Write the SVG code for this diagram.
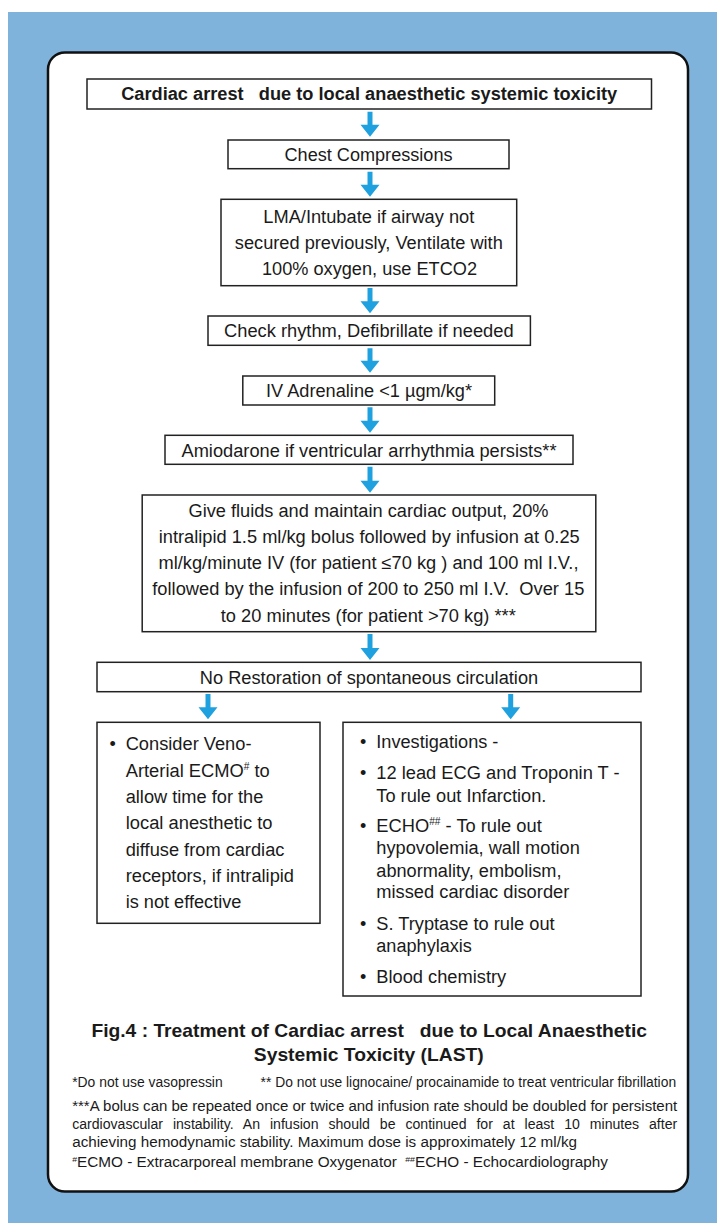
<svg xmlns="http://www.w3.org/2000/svg" width="717" height="1223" viewBox="0 0 717 1223">
<defs>
<style>
.t{font-family:"Liberation Sans",Arial,sans-serif;font-size:18px;fill:#1a1a1a}
.b{font-weight:bold}
.m{text-anchor:middle}
.p{white-space:pre}
.f{font-family:"Liberation Sans",Arial,sans-serif;font-size:14px;fill:#1a1a1a}
.box{fill:#ffffff;stroke:#222222;stroke-width:1.5}
.arr{fill:#1fa1e0;stroke:none}
.sup{font-size:10px}
</style>
</defs>
<rect x="0" y="0" width="717" height="1223" fill="#ffffff"/>
<rect x="8" y="12" width="709" height="1211" fill="#80b3dc"/>
<rect x="48" y="52.5" width="640" height="1139" rx="17" ry="17" fill="#ffffff" stroke="#111111" stroke-width="2.5"/>

<g id="connectors">
<path class="arr" d="M367.5,111.7 h5 V124.7 h7 L370,136.7 L360.5,124.7 h7 Z"/>
<path class="arr" d="M367.5,171.7 h5 V184.7 h7 L370,196.7 L360.5,184.7 h7 Z"/>
<path class="arr" d="M367.5,288 h5 V301.3 h7 L370,313.3 L360.5,301.3 h7 Z"/>
<path class="arr" d="M367.5,348.3 h5 V360.7 h7 L370,372.7 L360.5,360.7 h7 Z"/>
<path class="arr" d="M367.5,407.3 h5 V420.7 h7 L370,432.7 L360.5,420.7 h7 Z"/>
<path class="arr" d="M367.5,466.7 h5 V480.7 h7 L370,492.7 L360.5,480.7 h7 Z"/>
<path class="arr" d="M367.5,634 h5 V648 h7 L370,660 L360.5,648 h7 Z"/>
<path class="arr" d="M205.5,694 h5 V707.3 h7 L208,719.3 L198.5,707.3 h7 Z"/>
<path class="arr" d="M508.2,694 h5 V707.3 h7 L510.7,719.3 L501.2,707.3 h7 Z"/>
</g>

<g id="n-title">
<rect class="box" x="87" y="79" width="564.5" height="30" stroke-width="2"/>
<text class="t b m p" x="369.2" y="100.3" textLength="496" lengthAdjust="spacingAndGlyphs">Cardiac arrest   due to local anaesthetic systemic toxicity</text>
</g>

<g id="n-chest">
<rect class="box" x="228" y="140" width="281" height="28.7"/>
<text class="t m" x="368.5" y="160.7" textLength="168" lengthAdjust="spacingAndGlyphs">Chest Compressions</text>
</g>

<g id="n-lma">
<rect class="box" x="221" y="199.3" width="295.7" height="86.4"/>
<text class="t m" x="368.8" y="222.7" textLength="211" lengthAdjust="spacingAndGlyphs">LMA/Intubate if airway not</text>
<text class="t m" x="368.8" y="248.5" textLength="268" lengthAdjust="spacingAndGlyphs">secured previously, Ventilate with</text>
<text class="t m" x="369.5" y="275" textLength="215" lengthAdjust="spacingAndGlyphs">100% oxygen, use ETCO2</text>
</g>

<g id="n-rhythm">
<rect class="box" x="208" y="316" width="322.4" height="29.3"/>
<text class="t m" x="368.8" y="336.7" textLength="289.5" lengthAdjust="spacingAndGlyphs">Check rhythm, Defibrillate if needed</text>
</g>

<g id="n-adrenaline">
<rect class="box" x="242.8" y="376" width="251.9" height="29"/>
<text class="t m" x="369" y="397.3" textLength="206" lengthAdjust="spacingAndGlyphs">IV Adrenaline &lt;1 µgm/kg*</text>
</g>

<g id="n-amiodarone">
<rect class="box" x="165" y="435.3" width="408" height="29"/>
<text class="t m" x="369" y="456.7" textLength="375" lengthAdjust="spacingAndGlyphs">Amiodarone if ventricular arrhythmia persists**</text>
</g>

<g id="n-fluids">
<rect class="box" x="142.2" y="495" width="453.6" height="136.7"/>
<text class="t m" x="368.5" y="516.7" textLength="360" lengthAdjust="spacingAndGlyphs">Give fluids and maintain cardiac output, 20%</text>
<text class="t m" x="369.2" y="542.7" textLength="421" lengthAdjust="spacingAndGlyphs">intralipid 1.5 ml/kg bolus followed by infusion at 0.25</text>
<text class="t m" x="368.5" y="569.3" textLength="420" lengthAdjust="spacingAndGlyphs">ml/kg/minute IV (for patient ≤70 kg ) and 100 ml I.V.,</text>
<text class="t m p" x="368.3" y="595.3" textLength="432" lengthAdjust="spacingAndGlyphs">followed by the infusion of 200 to 250 ml I.V.  Over 15</text>
<text class="t m" x="368.3" y="621.7" textLength="295" lengthAdjust="spacingAndGlyphs">to 20 minutes (for patient &gt;70 kg) ***</text>
</g>

<g id="n-norosc">
<rect class="box" x="97" y="662.3" width="544" height="29.4"/>
<text class="t m" x="369" y="684" textLength="338.4" lengthAdjust="spacingAndGlyphs">No Restoration of spontaneous circulation</text>
</g>

<g id="n-ecmo">
<rect class="box" x="97" y="722.3" width="223" height="201"/>
<text class="t" x="109.5" y="750">•</text>
<text class="t" x="125.7" y="750" textLength="125.8" lengthAdjust="spacingAndGlyphs">Consider Veno-</text>
<text class="t" x="125.7" y="776.7" textLength="144.1" lengthAdjust="spacingAndGlyphs">Arterial ECMO<tspan class="sup" dy="-7">#</tspan><tspan dy="7"> to</tspan></text>
<text class="t" x="125.7" y="802.7" textLength="137.7" lengthAdjust="spacingAndGlyphs">allow time for the</text>
<text class="t" x="125.7" y="829" textLength="146.8" lengthAdjust="spacingAndGlyphs">local anesthetic to</text>
<text class="t" x="125.7" y="855.7" textLength="158.7" lengthAdjust="spacingAndGlyphs">diffuse from cardiac</text>
<text class="t" x="125.7" y="881.7" textLength="168.3" lengthAdjust="spacingAndGlyphs">receptors, if intralipid</text>
<text class="t" x="125.7" y="908.3" textLength="115.7" lengthAdjust="spacingAndGlyphs">is not effective</text>
</g>

<g id="n-investigations">
<rect class="box" x="343" y="722.3" width="298" height="273.7"/>
<text class="t" x="360" y="748.3">•</text>
<text class="t" x="376.3" y="748.3" textLength="122.1" lengthAdjust="spacingAndGlyphs">Investigations -</text>
<text class="t" x="360" y="779.3">•</text>
<text class="t" x="376.3" y="779.3" textLength="243.3" lengthAdjust="spacingAndGlyphs">12 lead ECG and Troponin T -</text>
<text class="t" x="376.3" y="801.7" textLength="170.1" lengthAdjust="spacingAndGlyphs">To rule out Infarction.</text>
<text class="t" x="360" y="831.7">•</text>
<text class="t" x="376.3" y="831.7" textLength="165.5" lengthAdjust="spacingAndGlyphs">ECHO<tspan class="sup" dy="-7">##</tspan><tspan dy="7"> - To rule out</tspan></text>
<text class="t" x="376.3" y="854" textLength="203.5" lengthAdjust="spacingAndGlyphs">hypovolemia, wall motion</text>
<text class="t" x="376.3" y="876.7" textLength="185.2" lengthAdjust="spacingAndGlyphs">abnormality, embolism,</text>
<text class="t" x="376.3" y="898.3" textLength="193" lengthAdjust="spacingAndGlyphs">missed cardiac disorder</text>
<text class="t" x="360" y="930">•</text>
<text class="t" x="376.3" y="930" textLength="178.3" lengthAdjust="spacingAndGlyphs">S. Tryptase to rule out</text>
<text class="t" x="376.3" y="951.7" textLength="95.6" lengthAdjust="spacingAndGlyphs">anaphylaxis</text>
<text class="t" x="360" y="982.7">•</text>
<text class="t" x="376.3" y="982.7" textLength="129.9" lengthAdjust="spacingAndGlyphs">Blood chemistry</text>
</g>

<g id="caption">
<text class="t b m p" style="font-size:19px" x="369.2" y="1037.3" textLength="555.6" lengthAdjust="spacingAndGlyphs">Fig.4 : Treatment of Cardiac arrest   due to Local Anaesthetic</text>
<text class="t b m" style="font-size:19px" x="368.8" y="1060.7" textLength="230" lengthAdjust="spacingAndGlyphs">Systemic Toxicity (LAST)</text>
</g>

<g id="footnotes">
<text class="f" x="72.2" y="1087.3" textLength="150.5" lengthAdjust="spacingAndGlyphs">*Do not use vasopressin</text>
<text class="f" x="260.6" y="1087.3" textLength="415.5" lengthAdjust="spacingAndGlyphs">** Do not use lignocaine/ procainamide to treat ventricular fibrillation</text>
<text class="f" x="72.2" y="1111" textLength="605" lengthAdjust="spacingAndGlyphs">***A bolus can be repeated once or twice and infusion rate should be doubled for persistent</text>
<text class="f" x="72.2" y="1129.3" textLength="605" lengthAdjust="spacingAndGlyphs" style="word-spacing:6px">cardiovascular instability. An infusion should be continued for at least 10 minutes after</text>
<text class="f" x="72.2" y="1147.3" textLength="504.8" lengthAdjust="spacingAndGlyphs">achieving hemodynamic stability. Maximum dose is approximately 12 ml/kg</text>
<text class="f p" x="72.2" y="1167.3" textLength="535.8" lengthAdjust="spacingAndGlyphs"><tspan style="font-size:8px" dy="-5">#</tspan><tspan dy="5">ECMO - Extracarporeal membrane Oxygenator  </tspan><tspan style="font-size:8px" dy="-5">##</tspan><tspan dy="5">ECHO - Echocardiolography</tspan></text>
</g>
</svg>
